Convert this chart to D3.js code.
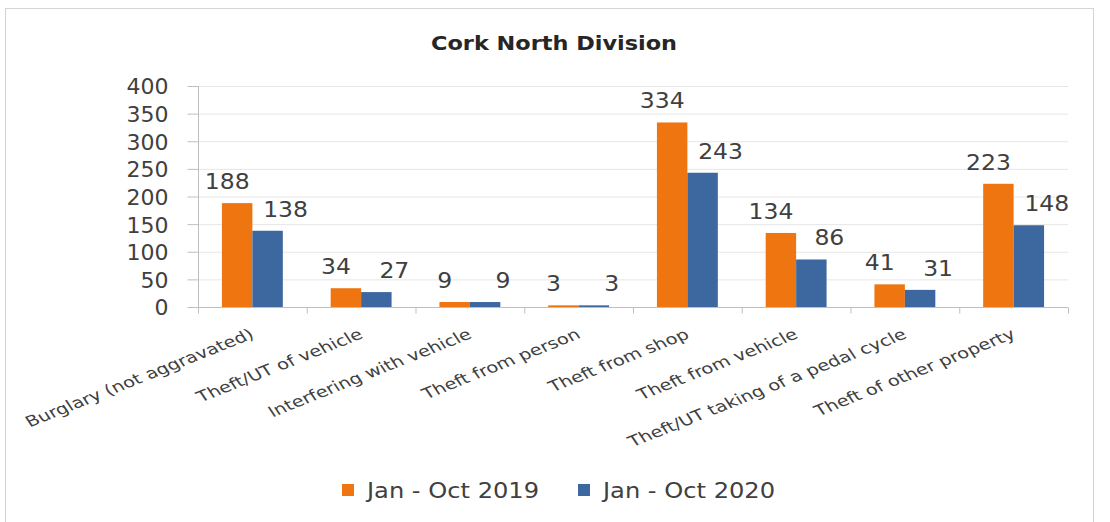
<!DOCTYPE html>
<html>
<head>
<meta charset="utf-8">
<script src="https://cdn.jsdelivr.net/npm/d3@7"></script>
<style>
  body { margin: 0; background: #fff; }
  svg text { font-family: "DejaVu Sans", sans-serif; fill: #404040; }
</style>
</head>
<body>
<div id="chart"></div>
<script>
var categories = ["Burglary (not aggravated)", "Theft/UT of vehicle", "Interfering with vehicle", "Theft from person",
  "Theft from shop", "Theft from vehicle", "Theft/UT taking of a pedal cycle", "Theft of other property"];
var seriesNames = ["Jan - Oct 2019", "Jan - Oct 2020"];
var values2019 = [188, 34, 9, 3, 334, 134, 41, 223];
var values2020 = [138, 27, 9, 3, 243, 86, 31, 148];
var yTicks = [0, 50, 100, 150, 200, 250, 300, 350, 400];
var colors = ["#ef7511", "#3d679f"];

var width = 1110, height = 522;
var margin = {top: 86, left: 198, right: 42, bottom: 215};
// the source picture is stretched sideways, so text gets a horizontal scale
var stretch = 1.3;

var svg = d3.select("#chart").append("svg")
  .attr("width", width)
  .attr("height", height);

// chart frame
svg.append("rect")
  .attr("x", 5.5).attr("y", 8.5)
  .attr("width", 1088).attr("height", 530)
  .attr("fill", "#fff")
  .attr("stroke", "#d4d4d4");

var data = categories.map(function(c, i){
  return {cat: c, vals: [values2019[i], values2020[i]]};
});

var x0 = d3.scaleBand()
  .domain(categories)
  .range([margin.left, width - margin.right])
  .paddingInner(0.44)
  .paddingOuter(0.22);

var x1 = d3.scaleBand()
  .domain([0, 1])
  .range([0, x0.bandwidth()]);

var y = d3.scaleLinear()
  .domain([0, 400])
  .range([height - margin.bottom, margin.top]);

// gridlines
svg.append("g")
  .selectAll("line")
  .data(yTicks.slice(1))
  .enter().append("line")
  .attr("x1", margin.left).attr("x2", width - margin.right)
  .attr("y1", function(d){ return y(d) + 0.5; })
  .attr("y2", function(d){ return y(d) + 0.5; })
  .attr("stroke", "#e6e6e6");

// y axis
var yAxis = svg.append("g")
  .attr("transform", "translate(" + (margin.left + 0.5) + ",0)")
  .call(d3.axisLeft(y).tickValues(yTicks).tickSize(11).tickPadding(19));
yAxis.selectAll("line, path").attr("stroke", "#bfbfbf");
yAxis.select(".domain").attr("d", "M0," + y(400) + "V" + y(0));
yAxis.selectAll("text")
  .style("font-size", "22px")
  .attr("font-family", null)
  .attr("fill", "#404040")
  .attr("dy", "0.36em");

// x axis line and category boundary ticks
var xBase = y(0) + 0.5;
svg.append("line")
  .attr("x1", margin.left).attr("x2", width - margin.right)
  .attr("y1", xBase).attr("y2", xBase)
  .attr("stroke", "#bfbfbf");
var step = x0.step();
svg.append("g")
  .selectAll("line")
  .data(d3.range(categories.length + 1))
  .enter().append("line")
  .attr("x1", function(i){ return margin.left + i * step + 0.5; })
  .attr("x2", function(i){ return margin.left + i * step + 0.5; })
  .attr("y1", xBase).attr("y2", xBase + 6)
  .attr("stroke", "#bfbfbf");

// bars
var groups = svg.append("g")
  .selectAll("g")
  .data(data)
  .enter().append("g")
  .attr("transform", function(d){ return "translate(" + x0(d.cat) + ",0)"; });

groups.selectAll("rect")
  .data(function(d){ return d.vals; })
  .enter().append("rect")
  .attr("x", function(d, i){ return x1(i); })
  .attr("y", function(d){ return y(d); })
  .attr("width", x1.bandwidth())
  .attr("height", function(d){ return y(0) - y(d); })
  .attr("fill", function(d, i){ return colors[i]; });

// value labels
var labelShift = [-10, 18];
groups.selectAll("text")
  .data(function(d){ return d.vals; })
  .enter().append("text")
  .attr("transform", function(d, i){
    return "translate(" + (x1(i) + x1.bandwidth() / 2 + labelShift[i]) + "," + (y(d) - 14) + ") scale(1.12,1)";
  })
  .attr("text-anchor", "middle")
  .style("font-size", "21px")
  .text(function(d){ return d; });

// category labels
svg.append("g")
  .selectAll("text")
  .data(categories)
  .enter().append("text")
  .attr("transform", function(d){
    return "translate(" + (x0(d) + x0.bandwidth() / 2 + 3) + "," + (xBase + 30) + ") scale(" + stretch + ",1) rotate(-27.4)";
  })
  .attr("text-anchor", "end")
  .style("font-size", "15px")
  .text(function(d){ return d; });

// title
svg.append("text")
  .attr("transform", "translate(554,50) scale(1.12,1)")
  .attr("text-anchor", "middle")
  .style("font-size", "20px")
  .style("font-weight", "bold")
  .style("fill", "#262626")
  .text("Cork North Division");

// legend
var legend = svg.append("g")
  .selectAll("g")
  .data(seriesNames)
  .enter().append("g")
  .attr("transform", function(d, i){ return "translate(" + (342 + i * 236) + ",484)"; });
legend.append("rect")
  .attr("width", 12).attr("height", 12)
  .attr("fill", function(d, i){ return colors[i]; });
legend.append("text")
  .attr("transform", "translate(25,14) scale(1.15,1)")
  .style("font-size", "21px")
  .text(function(d){ return d; });
</script>
</body>
</html>
